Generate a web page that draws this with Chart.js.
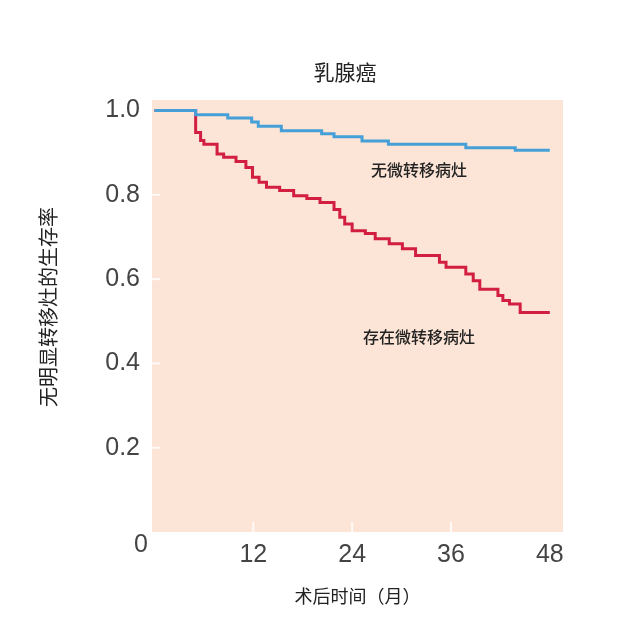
<!DOCTYPE html>
<html>
<head>
<meta charset="utf-8">
<script src="https://cdn.jsdelivr.net/npm/chart.js@4.4.1/dist/chart.umd.min.js"></script>
<style>
  html, body { margin: 0; padding: 0; background: #ffffff; }
  #wrap { width: 628px; height: 630px; position: relative; }
</style>
</head>
<body>
<div id="wrap"><canvas id="c" width="628" height="630"></canvas></div>
<script>
// ---- data (months, survival) ----
const chartTitle = '乳腺癌';
const xTitle = '术后时间（月）';
const yTitle = '无明显转移灶的生存率';
const seriesNames = ['无微转移病灶', '存在微转移病灶'];
const xTickValues = [12, 24, 36, 48];
const yTickValues = [0.2, 0.4, 0.6, 0.8, 1.0];

const monthsNoMicro   = [0,    5.0,  8.9,  11.8,  12.6,  15.4,  20.3,  21.8,  25.2,  28.4,  37.8,  43.8,  48];
const survivalNoMicro = [1.0,  0.99, 0.982, 0.973, 0.963, 0.952, 0.945, 0.938, 0.928, 0.920, 0.912, 0.906, 0.906];

const monthsMicro   = [0,   5.0,   5.6,   6.0,  7.6,   8.4,   9.9,   11.1,  11.9,  12.7,  13.6,  15.2,  16.9,  18.5,  20.1,  21.8,  22.5,  23.1,  24.0,  25.6,  26.8,  28.5,  30.1,  31.7,  34.6,  35.4,  37.8,  38.7,  39.5,  41.7,  42.3,  43.1,  44.4,  48];
const survivalMicro = [1.0, 0.948, 0.929, 0.92, 0.897, 0.889, 0.879, 0.865, 0.842, 0.830, 0.818, 0.810, 0.798, 0.791, 0.782, 0.765, 0.747, 0.731, 0.715, 0.708, 0.696, 0.684, 0.672, 0.656, 0.640, 0.628, 0.612, 0.596, 0.576, 0.561, 0.549, 0.541, 0.521, 0.521];

const toPoints = (xs, ys) => xs.map((x, i) => ({ x: x, y: ys[i] }));

const CJK = '"Noto Sans CJK SC", "Noto Sans", sans-serif';
const NUM = '"Liberation Sans", "Noto Sans", sans-serif';

const decor = {
  id: 'decor',
  beforeDraw(chart) {
    const { ctx, chartArea: a } = chart;
    ctx.save();
    ctx.fillStyle = '#fce5d6';
    ctx.fillRect(a.left, a.top, a.right - a.left, a.bottom - a.top);
    // faint white tick marks inside the panel
    ctx.strokeStyle = 'rgba(255,255,255,0.8)';
    ctx.lineWidth = 2;
    const xs = chart.scales.x, ys = chart.scales.y;
    xTickValues.slice(0, 3).forEach(v => {
      const px = xs.getPixelForValue(v);
      ctx.beginPath(); ctx.moveTo(px, a.bottom); ctx.lineTo(px, a.bottom - 10); ctx.stroke();
    });
    yTickValues.slice(0, 4).forEach(v => {
      const py = ys.getPixelForValue(v);
      ctx.beginPath(); ctx.moveTo(a.left, py); ctx.lineTo(a.left + 8, py); ctx.stroke();
    });
    ctx.restore();
  },
  afterDraw(chart) {
    const { ctx } = chart;
    ctx.save();
    ctx.textAlign = 'center';
    ctx.textBaseline = 'middle';
    ctx.fillStyle = '#222';
    ctx.font = '21px ' + CJK;
    ctx.fillText(chartTitle, 345, 72);
    ctx.font = '500 16px ' + CJK;
    ctx.fillText(seriesNames[0], 419, 170);
    ctx.fillText(seriesNames[1], 419, 337);
    ctx.font = '20px ' + CJK;
    ctx.save();
    ctx.translate(48, 307);
    ctx.rotate(-Math.PI / 2);
    ctx.fillText(yTitle, 0, 0);
    ctx.restore();
    ctx.font = '25px ' + NUM;
    ctx.fillStyle = '#444';
    ctx.fillText('0', 141, 545);
    ctx.restore();
  }
};

new Chart(document.getElementById('c'), {
  type: 'line',
  data: {
    datasets: [
      {
        label: seriesNames[0],
        data: toPoints(monthsNoMicro, survivalNoMicro),
        borderColor: '#45a0d8',
        borderWidth: 3,
        pointRadius: 0,
        stepped: true,
        fill: false
      },
      {
        label: seriesNames[1],
        data: toPoints(monthsMicro, survivalMicro),
        borderColor: '#d21e40',
        borderWidth: 3,
        pointRadius: 0,
        stepped: true,
        fill: false
      }
    ]
  },
  options: {
    responsive: false,
    animation: false,
    devicePixelRatio: 1,
    layout: { padding: { left: 0, top: 100, right: 65, bottom: 0 } },
    plugins: { legend: { display: false }, tooltip: { enabled: false }, title: { display: false } },
    scales: {
      x: {
        type: 'linear',
        min: -0.3,
        max: 49.6,
        afterBuildTicks: s => { s.ticks = xTickValues.map(v => ({ value: v })); },
        afterFit: s => { s.height = 98; },
        grid: { display: false },
        border: { display: false },
        ticks: {
          padding: 0,
          color: '#444',
          font: { family: NUM, size: 25 },
          maxRotation: 0,
          autoSkip: false
        },
        title: {
          display: true,
          text: xTitle,
          color: '#222',
          font: { family: CJK, size: 18 },
          padding: { top: 0, bottom: 23 }
        }
      },
      y: {
        type: 'linear',
        min: 0,
        max: 1.025,
        afterBuildTicks: s => { s.ticks = yTickValues.map(v => ({ value: v })); },
        afterFit: s => { s.width = 152; },
        grid: { display: false },
        border: { display: false },
        ticks: {
          padding: 4,
          color: '#444',
          font: { family: NUM, size: 25 },
          callback: v => Number(v).toFixed(1),
          autoSkip: false
        },
        title: { display: false }
      }
    }
  },
  plugins: [decor]
});
</script>
</body>
</html>
